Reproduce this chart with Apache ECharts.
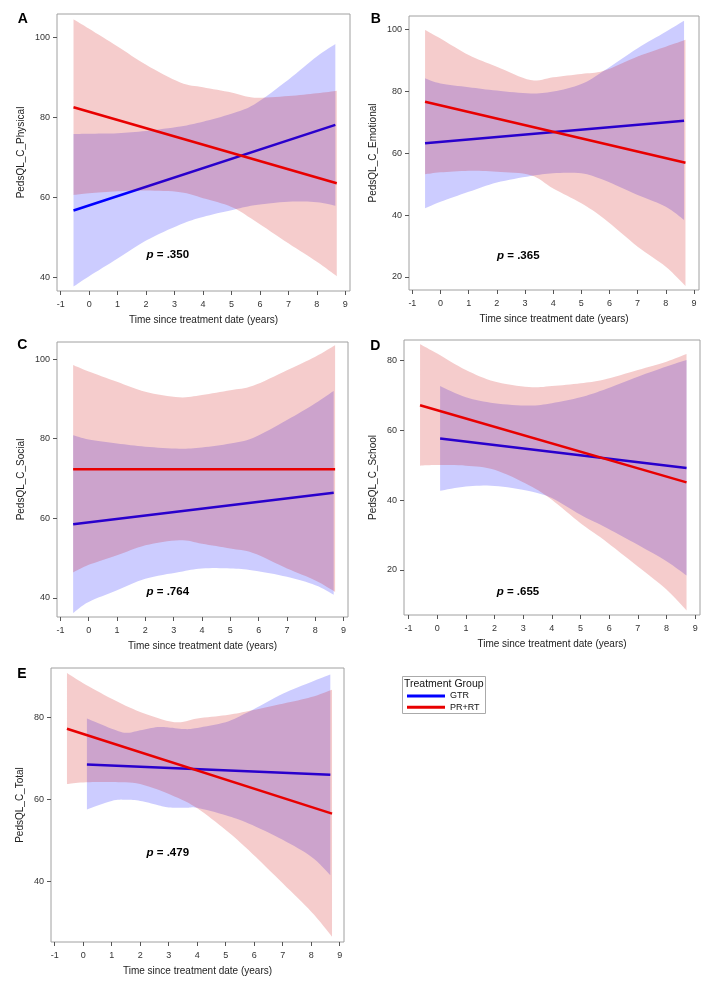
<!DOCTYPE html>
<html><head><meta charset="utf-8">
<script src="https://cdn.jsdelivr.net/npm/echarts@6/dist/echarts.min.js"></script>
<style>html,body{margin:0;padding:0;background:#fff}#c{width:720px;height:984px}</style>
</head><body><div id="c"></div>
<script>
// ---------- labels ----------
const groups = ['GTR', 'PR+RT'];
const legendTitle = 'Treatment Group';
const xTitle = 'Time since treatment date (years)';
const yTitles = ['PedsQL_C_Physical', 'PedsQL_C_Emotional', 'PedsQL_C_Social', 'PedsQL_C_School', 'PedsQL_C_Total'];
const panelLetters = ['A', 'B', 'C', 'D', 'E'];
const pValues = ['.350', '.365', '.764', '.655', '.479'];
const xTicks = [-1, 0, 1, 2, 3, 4, 5, 6, 7, 8, 9];
const yTicksA = [40, 60, 80, 100];
const yTicksB = [20, 40, 60, 80, 100];
const yTicksC = [40, 60, 80, 100];
const yTicksD = [20, 40, 60, 80];
const yTicksE = [40, 60, 80];

// ---------- A: Physical ----------
const aRedX = [-0.55, 0, 1, 2, 3.2, 4, 5, 5.8, 7, 8, 8.7];
const aRedUpper = [104.5, 102.1, 97.7, 93.1, 88.7, 87.5, 86.2, 84.9, 85.3, 86.0, 86.6];
const aRedLower = [60.6, 61.0, 61.5, 61.7, 61.3, 59.8, 57.6, 54.2, 48.5, 43.9, 40.3];
const aBlueX = [-0.55, 0, 1, 2, 3.2, 4, 5, 5.8, 7, 8, 8.65];
const aBlueUpper = [75.8, 75.9, 76.0, 76.6, 77.7, 78.9, 80.9, 83.2, 89.4, 95.2, 98.3];
const aBlueLower = [37.7, 40.3, 44.7, 49.2, 53.2, 55.1, 56.8, 58.0, 58.9, 58.8, 57.9];
const aRedLine = [[-0.55, 82.5], [8.7, 63.5]];
const aBlueLine = [[-0.55, 56.7], [8.65, 78.1]];

// ---------- B: Emotional ----------
const bRedX = [-0.55, 0, 1, 2, 3.2, 4, 5, 5.8, 7, 8, 8.7];
const bRedUpper = [99.8, 97.0, 91.7, 87.9, 83.6, 84.5, 85.6, 86.6, 91.2, 94.4, 96.6];
const bRedLower = [53.2, 53.8, 54.3, 54.0, 52.9, 48.6, 43.8, 38.9, 29.8, 23.3, 17.1];
const bBlueX = [-0.55, 0, 1, 2, 3.2, 4, 5, 5.8, 7, 8, 8.65];
const bBlueUpper = [84.2, 82.5, 81.3, 80.2, 79.3, 79.9, 82.3, 86.6, 93.9, 99.2, 102.8];
const bBlueLower = [42.2, 44.3, 47.5, 50.5, 52.6, 53.5, 53.5, 51.3, 46.5, 42.7, 38.4];
const bRedLine = [[-0.55, 76.6], [8.7, 56.9]];
const bBlueLine = [[-0.55, 63.2], [8.65, 70.5]];

// ---------- C: Social ----------
const cRedX = [-0.55, 0, 1, 2, 3.2, 4, 5, 5.8, 7, 8, 8.7];
const cRedUpper = [98.5, 96.9, 94.3, 91.8, 90.4, 91.0, 92.2, 93.3, 97.2, 100.6, 103.5];
const cRedLower = [46.4, 48.3, 50.7, 53.2, 54.5, 53.6, 52.4, 51.3, 47.4, 44.4, 41.5];
const cBlueX = [-0.55, 0, 1, 2, 3.2, 4, 5, 5.8, 7, 8, 8.65];
const cBlueUpper = [80.9, 79.8, 78.8, 78.0, 77.5, 77.8, 78.8, 80.2, 84.7, 88.9, 92.0];
const cBlueLower = [36.2, 39.0, 41.9, 44.8, 46.5, 47.4, 47.4, 46.9, 45.3, 43.2, 40.8];
const cRedLine = [[-0.55, 72.3], [8.7, 72.3]];
const cBlueLine = [[-0.55, 58.5], [8.65, 66.4]];

// ---------- D: School ----------
const dRedX = [-0.6, 0, 1, 2, 3.2, 4, 5, 5.8, 7, 8, 8.7];
const dRedUpper = [84.7, 82.0, 77.3, 74.0, 72.4, 72.7, 73.5, 74.5, 77.3, 79.7, 81.9];
const dRedLower = [49.9, 50.1, 49.9, 48.7, 44.3, 40.1, 33.4, 28.7, 21.0, 14.4, 8.4];
const dBlueX = [0.1, 1, 2, 3.2, 4, 5, 5.8, 7, 8, 8.7];
const dBlueUpper = [72.7, 69.5, 67.8, 67.1, 67.8, 69.5, 71.6, 75.4, 78.3, 80.2];
const dBlueLower = [42.7, 43.9, 44.1, 42.6, 40.6, 35.8, 32.5, 27.2, 22.5, 18.4];
const dRedLine = [[-0.6, 67.2], [8.7, 45.1]];
const dBlueLine = [[0.1, 57.7], [8.7, 49.2]];

// ---------- E: Total ----------
const eRedX = [-0.57, 0, 1, 2, 3.2, 4, 5, 5.8, 7, 8, 8.73];
const eRedUpper = [90.9, 88.4, 84.6, 81.4, 78.9, 79.8, 80.6, 81.6, 83.4, 85.0, 86.8];
const eRedLower = [63.8, 64.2, 64.3, 63.8, 60.8, 57.9, 52.6, 47.7, 39.6, 32.7, 26.6];
const eBlueX = [0.13, 1, 1.5, 2, 2.6, 3, 3.6, 4, 5, 5.8, 7, 8, 8.67];
const eBlueUpper = [79.8, 77.3, 76.3, 76.9, 77.7, 77.6, 77.2, 77.5, 78.9, 81.4, 85.8, 88.7, 90.5];
const eBlueLower = [57.6, 59.7, 60.0, 59.7, 58.7, 58.1, 58.0, 58.0, 56.2, 54.2, 50.2, 46.1, 41.6];
const eRedLine = [[-0.57, 77.3], [8.73, 56.6]];
const eBlueLine = [[0.13, 68.6], [8.67, 66.1]];

// ---------- styling / layout ----------
const FONT = '"Liberation Sans", Arial, Helvetica, sans-serif';
const BLUE_LINE = '#0000FF', RED_LINE = '#E80000';
const BLUE_FILL = 'rgba(0,0,255,0.2)', RED_FILL = 'rgba(204,0,0,0.2)';

const panels = [
  { grid: { left: 57, top: 14, width: 293, height: 277 }, x: [-1.13, 9.165], y: [36.6, 105.8], yTicks: yTicksA, yGap: 31,
    red: [aRedX, aRedLower, aRedUpper, aRedLine], blue: [aBlueX, aBlueLower, aBlueUpper, aBlueLine],
    letter: [22.8, 19.5], p: [167.8, 255] },
  { grid: { left: 409, top: 16, width: 290, height: 274 }, x: [-1.12, 9.18], y: [15.8, 104.3], yTicks: yTicksB, yGap: 31,
    red: [bRedX, bRedLower, bRedUpper, bRedLine], blue: [bBlueX, bBlueLower, bBlueUpper, bBlueLine],
    letter: [375.7, 19.5], p: [518.3, 256] },
  { grid: { left: 57, top: 342, width: 291, height: 275 }, x: [-1.12, 9.155], y: [35.2, 104.3], yTicks: yTicksC, yGap: 31,
    red: [cRedX, cRedLower, cRedUpper, cRedLine], blue: [cBlueX, cBlueLower, cBlueUpper, cBlueLine],
    letter: [22.3, 345.3], p: [167.8, 591.7] },
  { grid: { left: 404, top: 340, width: 296, height: 275 }, x: [-1.16, 9.17], y: [7.1, 85.9], yTicks: yTicksD, yGap: 25.5,
    red: [dRedX, dRedLower, dRedUpper, dRedLine], blue: [dBlueX, dBlueLower, dBlueUpper, dBlueLine],
    letter: [375.3, 345.7], p: [518, 591.7] },
  { grid: { left: 51, top: 668, width: 293, height: 274 }, x: [-1.13, 9.15], y: [25.3, 92.1], yTicks: yTicksE, yGap: 25.5,
    red: [eRedX, eRedLower, eRedUpper, eRedLine], blue: [eBlueX, eBlueLower, eBlueUpper, eBlueLine],
    letter: [22, 674], p: [167.8, 852.7] }
];

// Catmull-Rom smoothing of the rendered edge (pixel space)
function crSample(p) {
  const out = [];
  const n = p.length;
  for (let i = 0; i < n - 1; i++) {
    const p0 = p[Math.max(i - 1, 0)], p1 = p[i], p2 = p[i + 1], p3 = p[Math.min(i + 2, n - 1)];
    for (let k = 0; k < 8; k++) {
      const t = k / 8, t2 = t * t, t3 = t2 * t;
      const f = (a, b, c, d) => 0.5 * (2 * b + (-a + c) * t + (2 * a - 5 * b + 4 * c - d) * t2 + (-a + 3 * b - 3 * c + d) * t3);
      out.push([f(p0[0], p1[0], p2[0], p3[0]), f(p0[1], p1[1], p2[1], p3[1])]);
    }
  }
  out.push(p[n - 1]);
  return out;
}

function bandSeries(idx, xs, lo, up, fill, z) {
  return {
    type: 'custom', coordinateSystem: 'cartesian2d', xAxisIndex: idx, yAxisIndex: idx, z: z, silent: true,
    data: xs.map((x, i) => [x, lo[i], up[i]]),
    encode: { x: 0, y: [1, 2] },
    renderItem: function (params, api) {
      if (params.dataIndex !== 0) return null;
      const upper = xs.map((x, i) => api.coord([x, up[i]]));
      const lower = xs.map((x, i) => api.coord([x, lo[i]]));
      const pts = crSample(upper).concat(crSample(lower).reverse());
      return { type: 'polygon', shape: { points: pts }, style: { fill: fill, stroke: null } };
    }
  };
}

function lineSeries(idx, name, data, color, z) {
  return {
    type: 'line', name: name, xAxisIndex: idx, yAxisIndex: idx, data: data, symbol: 'none', z: z, silent: true,
    lineStyle: { width: 2.5, color: color }, itemStyle: { color: color }
  };
}

const grids = [], xAxes = [], yAxes = [], series = [], graphics = [];
panels.forEach((pn, i) => {
  grids.push(Object.assign({ show: true, borderColor: '#a0a0a0', borderWidth: 1, containLabel: false, outerBoundsMode: 'none' }, pn.grid));
  xAxes.push({
    gridIndex: i, type: 'value', min: pn.x[0], max: pn.x[1],
    name: xTitle, nameLocation: 'middle', nameGap: 24,
    nameTextStyle: { fontSize: 10, color: '#222', fontFamily: FONT },
    axisLine: { show: false, onZero: false },
    axisTick: { show: true, length: 4, customValues: xTicks, lineStyle: { color: '#555' } },
    axisLabel: { customValues: xTicks, fontSize: 9, color: '#333', margin: 9, fontFamily: FONT },
    splitLine: { show: false }
  });
  yAxes.push({
    gridIndex: i, type: 'value', min: pn.y[0], max: pn.y[1],
    name: yTitles[i], nameLocation: 'middle', nameGap: pn.yGap, nameRotate: 90,
    nameTextStyle: { fontSize: 10, color: '#222', fontFamily: FONT },
    axisLine: { show: false, onZero: false },
    axisTick: { show: true, length: 4, customValues: pn.yTicks, lineStyle: { color: '#555' } },
    axisLabel: { customValues: pn.yTicks, fontSize: 9, color: '#333', margin: 7, fontFamily: FONT },
    splitLine: { show: false }
  });
  // drawing order: GTR band, GTR line, PR+RT band, PR+RT line
  series.push(bandSeries(i, pn.blue[0], pn.blue[1], pn.blue[2], BLUE_FILL, 2));
  series.push(lineSeries(i, groups[0], pn.blue[3], BLUE_LINE, 3));
  series.push(bandSeries(i, pn.red[0], pn.red[1], pn.red[2], RED_FILL, 4));
  series.push(lineSeries(i, groups[1], pn.red[3], RED_LINE, 5));
  graphics.push({
    type: 'text', x: pn.letter[0], y: pn.letter[1],
    style: { text: panelLetters[i], fontSize: 14, fontWeight: 'bold', fontFamily: FONT, fill: '#000', align: 'center', verticalAlign: 'middle' }
  });
  graphics.push({
    type: 'text', x: pn.p[0], y: pn.p[1],
    style: {
      text: '{i|p} = ' + pValues[i], fontSize: 11.5, fontWeight: 'bold', fontFamily: FONT, fill: '#000',
      align: 'center', verticalAlign: 'middle',
      rich: { i: { fontStyle: 'italic', fontWeight: 'bold', fontSize: 11.5, fontFamily: FONT, fill: '#000' } }
    }
  });
});

graphics.push({ type: 'rect', shape: { x: 402.5, y: 676.5, width: 83, height: 37 }, style: { fill: 'none', stroke: '#aaa', lineWidth: 1 } });
graphics.push({ type: 'text', x: 404, y: 684.5, style: { text: legendTitle, fontSize: 10.5, fontFamily: FONT, fill: '#111', align: 'left', verticalAlign: 'middle' } });

const chart = echarts.init(document.getElementById('c'), null, { renderer: 'canvas', width: 720, height: 984 });
chart.setOption({
  animation: false,
  backgroundColor: '#fff',
  grid: grids, xAxis: xAxes, yAxis: yAxes, series: series,
  legend: {
    data: groups, orient: 'vertical', left: 407, top: 690.5, padding: 0, itemGap: 0.3,
    icon: 'rect', itemWidth: 38, itemHeight: 3, itemStyle: { borderWidth: 0 },
    textStyle: { fontSize: 9, lineHeight: 11, color: '#111', fontFamily: FONT }, selectedMode: false
  },
  graphic: graphics
});
</script></body></html>
